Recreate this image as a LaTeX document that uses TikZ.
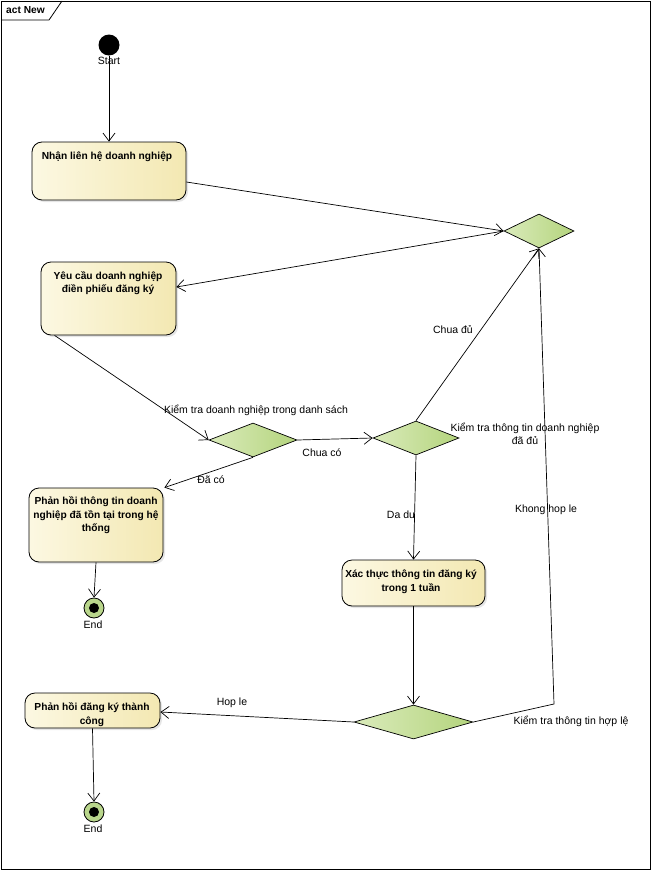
\documentclass[tikz,border=0pt]{standalone}
\usepackage{fontspec}
\setmainfont{Liberation Sans}
\usetikzlibrary{arrows.meta,shapes.geometric,shadows,calc}
\definecolor{actL}{HTML}{FCF8E2}
\definecolor{actR}{HTML}{F3E8B2}
\definecolor{decL}{HTML}{DAEBBB}
\definecolor{decR}{HTML}{B4D47D}
\definecolor{endG}{HTML}{B9D68C}
\begin{document}
\begin{tikzpicture}[x=1pt,y=-1pt,
  every node/.style={font=\fontsize{10.5}{13.5}\selectfont, inner sep=0pt},
  boldtxt/.style={font=\fontsize{10.2}{13.5}\selectfont\bfseries, align=center},
  action/.style={draw, line width=0.8pt, rounded corners=10pt, left color=actL, right color=actR,
    drop shadow={shadow xshift=2pt, shadow yshift=-2pt, opacity=0.2}},
  decision/.style={diamond, draw, line width=0.7pt, left color=decL, right color=decR},
  endnode/.style={circle, draw, line width=0.8pt, fill=endG, minimum size=20pt,
    path picture={\fill[black] (path picture bounding box.center) circle (5pt);}},
  flow/.style={draw, line width=0.7pt, -{Straight Barb[length=8pt,width=12pt,line width=0.7pt]}},
  lbl/.style={align=center}]

% page and frame
\useasboundingbox (0,0) rectangle (651,870);
\fill[white] (0,0) rectangle (651,870);
\draw[line width=0.8pt] (1,1) rectangle (650,869);
\draw[line width=0.8pt] (1,20) -- (49,20) -- (62,1);
\node[anchor=west, font=\fontsize{10.2}{12}\selectfont\bfseries] (frametitle) at (6,10.5) {act New};

% initial node
\node[circle, fill=black, minimum size=21pt] (start) at (109,45) {};
\node (startlbl) at (109,61) {Start};

% actions
\node[action, minimum width=154pt, minimum height=58pt] (a1) at (109,171) {};
\node[boldtxt] (a1t) at (107,157) {Nhận liên hệ doanh nghiệp};

\node[action, minimum width=135pt, minimum height=73pt] (a2) at (108.5,298.5) {};
\node[boldtxt] (a2t) at (108,283) {Yêu cầu doanh nghiệp\\điền phiếu đăng ký};

\node[action, minimum width=134pt, minimum height=74pt] (a3) at (96,525) {};
\node[boldtxt] (a3t) at (96,515.5) {Phản hồi thông tin doanh\\nghiệp đã tồn tại trong hệ\\thống};

\node[action, minimum width=143pt, minimum height=46pt] (a4) at (413.5,583) {};
\node[boldtxt] (a4t) at (411,582) {Xác thực thông tin đăng ký\\trong 1 tuần};

\node[action, minimum width=135pt, minimum height=35pt] (a5) at (92.5,710.5) {};
\node[boldtxt] (a5t) at (92,714.5) {Phản hồi đăng ký thành\\công};

% decisions
\node[decision, minimum width=70pt, minimum height=34pt] (d1) at (539,231) {};
\node[decision, minimum width=88pt, minimum height=34pt] (d2) at (253,440) {};
\node[decision, minimum width=86pt, minimum height=34pt] (d3) at (416,438) {};
\node[decision, minimum width=119pt, minimum height=34pt] (d4) at (413.5,722) {};

% final nodes
\node[endnode] (e1) at (94,608) {};
\node (e1lbl) at (93,625) {End};
\node[endnode] (e2) at (94,812) {};
\node (e2lbl) at (93,829) {End};

% bend point of the return flow
\coordinate (bend) at (554,704);

% flows
\draw[flow] (start) -- (a1);
\draw[flow] ($(a1.east)+(0,11)$) -- (d1.west);
\draw[flow] (d1.west) -- ($(a2.east)+(0,-11.5)$);
\draw[flow] ($(a2.south west)+(14,0)$) -- (d2.west);
\draw[flow] (d2.east) -- (d3.west);
\draw[flow] (d3.north) -- (d1.south);
\draw[flow] (d2.south) -- ($(a3.north east)+(1,0)$);
\draw[flow] (a3.south) -- (e1.north);
\draw[flow] (d3.south) -- (a4.north);
\draw[flow] (a4.south) -- (d4.north);
\draw[flow] (d4.east) -- (bend) -- (d1.south);
\draw[flow] (d4.west) -- ($(a5.east)+(0,1.5)$);
\draw[flow] (a5.south) -- (e2.north);

% flow labels
\node[lbl] (l1) at (256,410) {Kiểm tra doanh nghiệp trong danh sách};
\node[lbl] (l2) at (322,453) {Chua có};
\node[lbl] (l3) at (211,480) {Đã có};
\node[lbl] (l4) at (453,330) {Chua đủ};
\node[lbl] (l5) at (525,434) {Kiểm tra thông tin doanh nghiệp\\đã đủ};
\node[lbl] (l6) at (401,515) {Da du};
\node[lbl] (l7) at (546,510) {Khong hop le};
\node[lbl] (l8) at (232,703) {Hop le};
\node[lbl] (l9) at (571,721) {Kiểm tra thông tin hợp lệ};

\end{tikzpicture}
\end{document}
